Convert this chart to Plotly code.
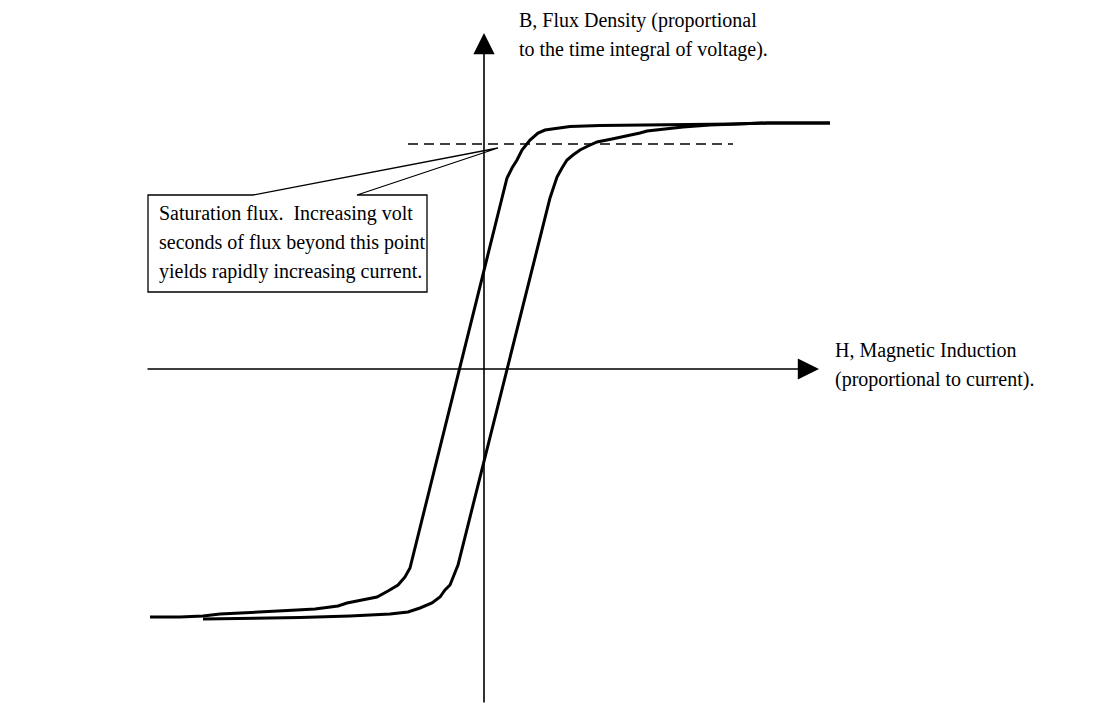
import plotly.graph_objects as go

# descending branch (from positive saturation down to negative saturation)
h_desc = [346, 283, 249, 199, 156, 116, 86, 73, 61, 54, 46, 38, 33, 28, 23, 18,
          -72, -74, -79, -86, -96, -107, -122, -137, -146, -154, -169, -187,
          -227, -264, -281, -304, -334]
b_desc = [246, 246, 245, 244.5, 244, 243.5, 242.5, 241, 239, 236, 229, 219, 209,
          201, 191, 171, -194, -199, -208, -216, -222, -228, -231, -234, -237,
          -238, -240, -241, -243, -245, -247, -248, -248]

# ascending branch (from negative saturation up to positive saturation)
h_asc = [-281, -234, -184, -134, -94, -76, -64, -52, -44, -39, -34, -32, -29, -26,
         66, 69, 73, 78, 83, 89, 96, 104, 113, 128, 143, 156, 163, 181, 199, 226,
         249, 283, 346]
b_asc = [-250, -249.5, -248.5, -247, -245, -243, -239, -234, -228, -221, -216,
         -211, -204, -196, 171, 181, 192, 201, 209, 214, 219, 223, 227, 230, 233,
         236, 238, 240, 242, 244, 245, 246, 246]

# saturation flux level
h_sat = [-76, 249]
b_sat = [225, 225]

b_label = ["B, Flux Density (proportional", "to the time integral of voltage)."]
h_label = ["H, Magnetic Induction", "(proportional to current)."]
box_text = ["Saturation flux.\u00a0 Increasing volt",
            "seconds of flux beyond this point",
            "yields rapidly increasing current."]

fig = go.Figure()

fig.add_trace(go.Scatter(x=h_sat, y=b_sat, mode='lines',
                         line=dict(color='black', width=1.5, dash='10px,6px')))
fig.add_trace(go.Scatter(x=h_desc, y=b_desc, mode='lines',
                         line=dict(color='black', width=3)))
fig.add_trace(go.Scatter(x=h_asc, y=b_asc, mode='lines',
                         line=dict(color='black', width=3)))

font = dict(family='Liberation Serif', size=20, color='black')
annotations = []

# the axes, drawn as arrows
annotations.append(dict(x=0, y=336, ax=0, ay=-335, xref='x', yref='y', axref='x', ayref='y',
                        text='', showarrow=True, arrowhead=2, arrowwidth=1.6,
                        arrowsize=2.65, arrowcolor='black'))
annotations.append(dict(x=335, y=0, ax=-338, ay=0, xref='x', yref='y', axref='x', ayref='y',
                        text='', showarrow=True, arrowhead=2, arrowwidth=1.6,
                        arrowsize=2.65, arrowcolor='black'))

for i, t in enumerate(b_label):
    annotations.append(dict(x=33, y=349 - 29 * i, xref='x', yref='y', text=t,
                            showarrow=False, xanchor='left', yanchor='middle', font=font))
for i, t in enumerate(h_label):
    annotations.append(dict(x=349, y=19 - 29 * i, xref='x', yref='y', text=t,
                            showarrow=False, xanchor='left', yanchor='middle', font=font))
for i, t in enumerate(box_text):
    annotations.append(dict(x=-327, y=156 - 29 * i, xref='x', yref='y', text=t,
                            showarrow=False, xanchor='left', yanchor='middle', font=font))

# callout box with the wedge pointing at the saturation line
fig.add_shape(type='path', xref='x', yref='y',
              path='M -127,174 L -57,174 L -57,77 L -336,77 L -336,174 L -231,174 L 14,221 Z',
              line=dict(color='black', width=1.3))

# page body adds an 8px offset, so the ranges are shifted to compensate
fig.update_layout(
    width=1118, height=704,
    margin=dict(l=0, r=0, t=0, b=0),
    paper_bgcolor='white', plot_bgcolor='white',
    showlegend=False,
    xaxis=dict(range=[-476, 642], visible=False),
    yaxis=dict(range=[-343, 361], visible=False),
    annotations=annotations
)

fig.write_html("out.html")
